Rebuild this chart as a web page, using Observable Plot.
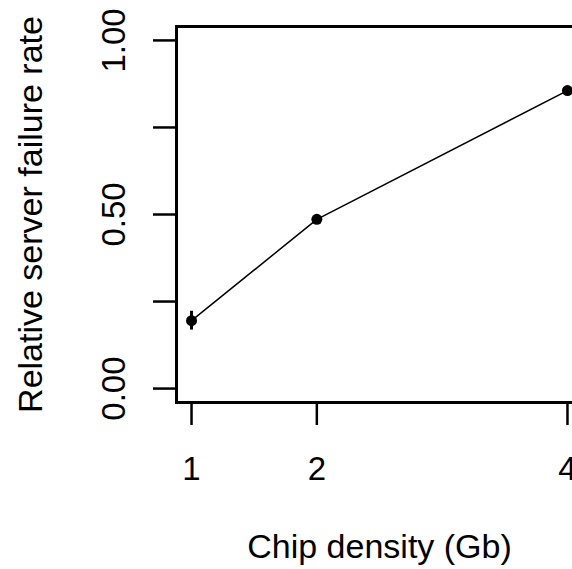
<!DOCTYPE html>
<html><head><meta charset="utf-8">
<script src="https://cdn.jsdelivr.net/npm/d3@7"></script>
<script src="https://cdn.jsdelivr.net/npm/@observablehq/plot@0.6"></script>
<style>body{margin:0;background:#fff}#c{width:572px;height:569px;overflow:hidden}#c svg{max-width:none!important}</style>
</head><body><div id="c"></div>
<script>
const density = [1, 2, 4];
const failureRate = [0.195, 0.486, 0.856];
const rateLow = [0.168, 0.478, 0.848];
const rateHigh = [0.222, 0.494, 0.864];
const xTicks = [1, 2, 4];
const yTicks = [0, 0.25, 0.5, 0.75, 1];
const yTickLabels = ["0.00", "", "0.50", "", "1.00"];
const xTitle = "Chip density (Gb)";
const yTitle = "Relative server failure rate";

const data = density.map((d, i) => ({x: d, y: failureRate[i], lo: rateLow[i], hi: rateHigh[i]}));
const yLab = yTicks.map((t, i) => ({t, label: yTickLabels[i]})).filter(d => d.label);
const font = "'Liberation Sans', Arial, Helvetica, sans-serif";

const chart = Plot.plot({
  width: 582, height: 569,
  marginLeft: 176, marginRight: 0, marginTop: 26, marginBottom: 167,
  style: {fontFamily: font, background: "white", color: "black"},
  x: {domain: [0.88, 4.12]},
  y: {domain: [-0.04, 1.04]},
  marks: [
    Plot.axisY({ticks: yTicks, tickSize: 23, tickFormat: () => "", strokeWidth: 2.5, label: null, anchor: "left"}),
    Plot.axisX({ticks: xTicks, tickSize: 23, tickPadding: 31, tickFormat: d => String(d), fontSize: 33, strokeWidth: 2.5, label: null, anchor: "bottom"}),
    Plot.text(yLab, {y: "t", text: "label", frameAnchor: "left", dx: -62, rotate: -90, fontSize: 33, textAnchor: "middle", lineAnchor: "middle", fill: "black"}),
    Plot.text([xTitle], {text: d => d, frameAnchor: "bottom", dy: 145, fontSize: 34, textAnchor: "middle", lineAnchor: "middle", fill: "black"}),
    Plot.text([yTitle], {text: d => d, frameAnchor: "left", dx: -145, rotate: -90, fontSize: 34, textAnchor: "middle", lineAnchor: "middle", fill: "black"}),
    Plot.frame({stroke: "black", strokeWidth: 3}),
    Plot.line(data, {x: "x", y: "y", stroke: "black", strokeWidth: 1.5}),
    Plot.ruleX(data, {x: "x", y1: "lo", y2: "hi", stroke: "black", strokeWidth: 3}),
    Plot.dot(data, {x: "x", y: "y", r: 5.5, fill: "black", stroke: "none"})
  ]
});
document.getElementById("c").appendChild(chart);
</script>
</body></html>
